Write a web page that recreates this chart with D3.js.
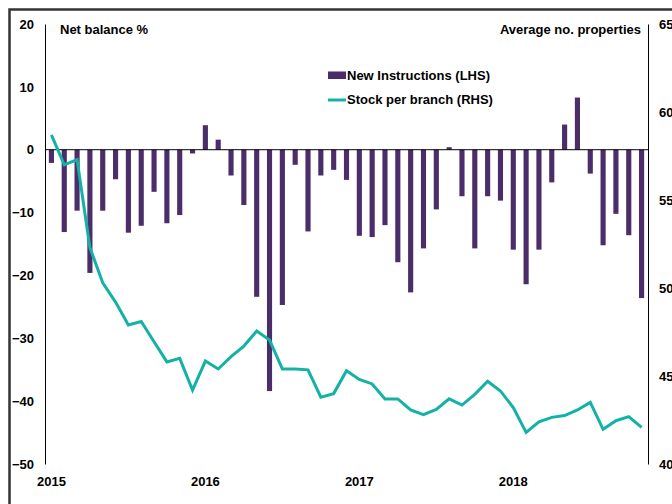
<!DOCTYPE html>
<html>
<head>
<meta charset="utf-8">
<script src="https://cdn.jsdelivr.net/npm/d3@7"></script>
<style>
  html, body { margin: 0; padding: 0; background: #fff; }
  svg text { font-family: "Liberation Sans", Arial, sans-serif; font-weight: bold; font-size: 13px; fill: #000; }
</style>
</head>
<body>
<div id="chart"></div>
<script>

// Months Jan 2015 .. Nov 2018
const months = d3.timeMonths(new Date(2015, 0, 1), new Date(2018, 10, 2));

// New Instructions, net balance % (LHS)
const newInstructions = [
  -2.1, -13.1, -9.7, -19.6, -9.7, -4.7, -13.2, -12.1, -6.7, -11.7, -10.4, -0.6,
  3.9, 1.6, -4.1, -8.8, -23.4, -38.4, -24.7, -2.4, -13.0, -4.1, -3.2, -4.8,
  -13.7, -13.9, -12.0, -17.9, -22.7, -15.7, -9.5, 0.4, -7.4, -15.7, -7.4, -8.1,
  -15.9, -21.4, -15.9, -5.2, 4.0, 8.3, -3.8, -15.2, -10.2, -13.6, -23.6
];

// Stock per branch, average no. properties (RHS)
const stockPerBranch = [
  58.7, 57.0, 57.3, 52.3, 50.3, 49.2, 47.9, 48.1, 46.95, 45.8, 46.0, 44.2,
  45.85, 45.4, 46.1, 46.7, 47.55, 47.05, 45.4, 45.4, 45.35, 43.8, 44.0, 45.3,
  44.8, 44.55, 43.7, 43.7, 43.07, 42.8, 43.1, 43.7, 43.35, 43.96, 44.7, 44.15,
  43.2, 41.8, 42.4, 42.65, 42.75, 43.07, 43.5, 41.97, 42.46, 42.69, 42.08
];

const leftTicks  = [20, 10, 0, -10, -20, -30, -40, -50],
      rightTicks = [65, 60, 55, 50, 45, 40],
      yearTicks  = ['2015', '2016', '2017', '2018'];

const seriesNames = ['New Instructions (LHS)', 'Stock per branch (RHS)'];

const width  = 672,
      height = 504,
      margin = { top: 24, right: 24, bottom: 40, left: 45 };

const barColor  = '#4b2d69',
      lineColor = '#14b2a6';

const svg = d3.select('#chart').append('svg')
  .attr('width', width)
  .attr('height', height);

// outer frame (runs off the right and bottom edges)
svg.append('rect')
  .attr('x', 9.5)
  .attr('y', 9.5)
  .attr('width', width + 20)
  .attr('height', height + 20)
  .attr('fill', 'none')
  .attr('stroke', '#333')
  .attr('stroke-width', 2.5);

const x = d3.scaleBand()
  .domain(months)
  .range([margin.left, width - margin.right])
  .paddingInner(0.6)
  .paddingOuter(0.3);

const yL = d3.scaleLinear()
  .domain([-50, 20])
  .range([height - margin.bottom, margin.top]);

const yR = d3.scaleLinear()
  .domain([40, 65])
  .range([height - margin.bottom, margin.top]);

// Axes

const axisL = svg.append('g')
  .attr('transform', `translate(${margin.left},0)`)
  .call(d3.axisLeft(yL).tickValues(leftTicks).tickSize(0).tickPadding(11));

const axisR = svg.append('g')
  .attr('transform', `translate(${width - margin.right},0)`)
  .call(d3.axisRight(yR).tickValues(rightTicks).tickSize(0).tickPadding(11));

const janMonths = months.filter((m) => m.getMonth() === 0);

const axisB = svg.append('g')
  .attr('transform', `translate(0,${height - margin.bottom})`)
  .call(d3.axisBottom(x)
    .tickValues(janMonths)
    .tickFormat((d, i) => yearTicks[i])
    .tickSize(0)
    .tickPadding(13));

axisB.select('.domain').remove();

[axisL, axisR, axisB].forEach((g) => {
  g.attr('font-family', null).attr('font-size', null);
  g.selectAll('.domain').attr('stroke', '#000').attr('stroke-width', 1);
  g.selectAll('text').attr('fill', '#000');
});

// Bars

svg.append('g')
  .selectAll('rect')
  .data(newInstructions)
  .join('rect')
  .attr('x', (d, i) => x(months[i]))
  .attr('y', (d) => yL(Math.max(0, d)))
  .attr('width', x.bandwidth())
  .attr('height', (d) => Math.abs(yL(d) - yL(0)))
  .attr('fill', barColor);

// Zero line
svg.append('line')
  .attr('x1', margin.left)
  .attr('x2', width - margin.right)
  .attr('y1', yL(0))
  .attr('y2', yL(0))
  .attr('stroke', '#000')
  .attr('stroke-width', 1);

// Stock line

const line = d3.line()
  .x((d, i) => x(months[i]) + x.bandwidth() / 2)
  .y((d) => yR(d));

svg.append('path')
  .datum(stockPerBranch)
  .attr('d', line)
  .attr('fill', 'none')
  .attr('stroke', lineColor)
  .attr('stroke-width', 3)
  .attr('stroke-linejoin', 'miter');

// Axis titles

svg.append('text')
  .attr('x', 60)
  .attr('y', 34)
  .text('Net balance %');

svg.append('text')
  .attr('x', 641)
  .attr('y', 34)
  .attr('text-anchor', 'end')
  .text('Average no. properties');

// Legend

const legend = svg.append('g').attr('transform', 'translate(328,0)');

legend.append('rect')
  .attr('x', 0)
  .attr('y', 71.5)
  .attr('width', 18)
  .attr('height', 7.5)
  .attr('fill', barColor);

legend.append('line')
  .attr('x1', 0)
  .attr('x2', 18)
  .attr('y1', 100)
  .attr('y2', 100)
  .attr('stroke', lineColor)
  .attr('stroke-width', 3);

legend.selectAll('text.name')
  .data(seriesNames)
  .join('text')
  .classed('name', true)
  .attr('x', 19)
  .attr('y', (d, i) => 80 + i * 24)
  .text((d) => d);

</script>
</body>
</html>
